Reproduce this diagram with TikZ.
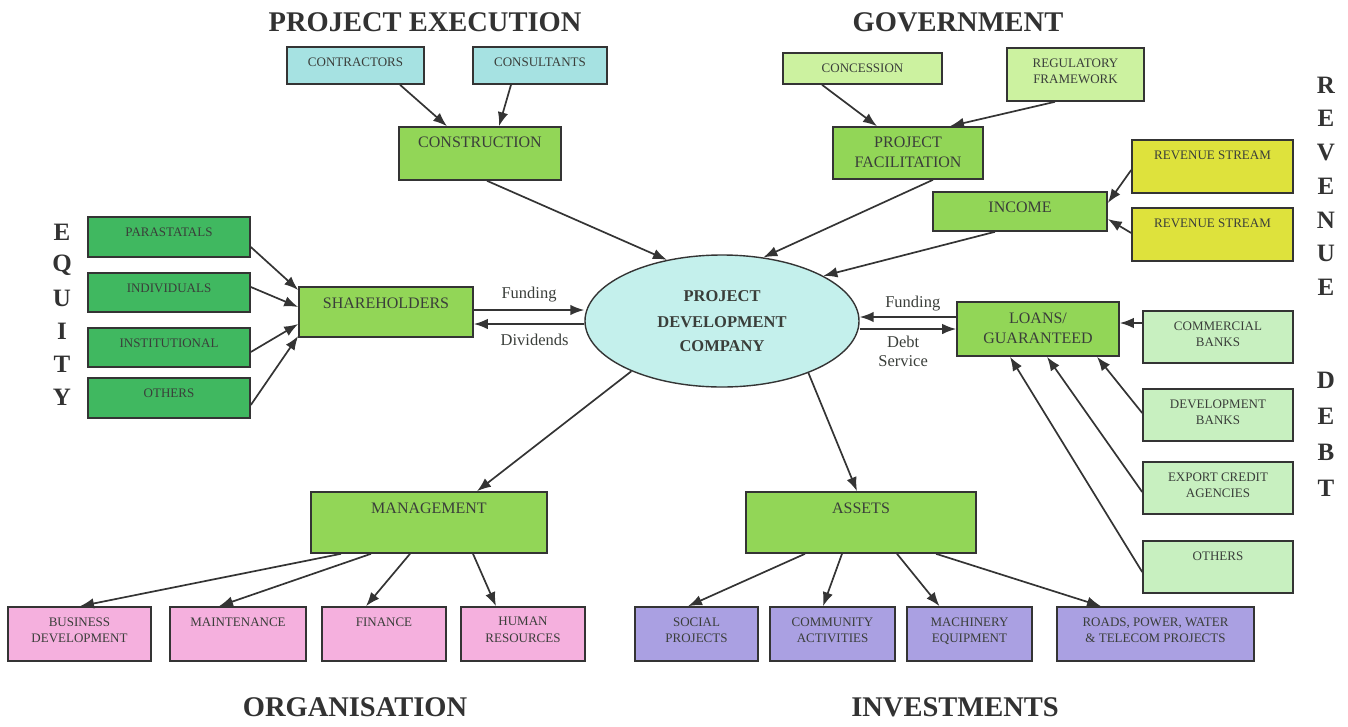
\documentclass[tikz,border=0pt]{standalone}
\usepackage{fontspec}
\setmainfont{Liberation Serif}
\usetikzlibrary{shapes}
\usetikzlibrary{arrows.meta}
\definecolor{bline}{RGB}{52,52,52}
\definecolor{btext}{RGB}{58,62,58}
\definecolor{htext}{RGB}{50,50,50}
\definecolor{bcyan}{RGB}{166,226,226}
\definecolor{bgreen}{RGB}{146,214,87}
\definecolor{blgreen}{RGB}{204,242,160}
\definecolor{byellow}{RGB}{222,226,60}
\definecolor{bdgreen}{RGB}{64,184,96}
\definecolor{bpgreen}{RGB}{200,240,192}
\definecolor{bpink}{RGB}{245,176,222}
\definecolor{blav}{RGB}{170,160,226}
\definecolor{bellip}{RGB}{196,240,236}
\tikzset{
    mybox/.style = {rectangle, line width=1.6pt, draw=bline, inner sep=0pt},
    myboxc/.style = {mybox, fill=bcyan},
    myboxg/.style = {mybox, fill=bgreen},
    myboxl/.style = {mybox, fill=blgreen},
    myboxy/.style = {mybox, fill=byellow},
    myboxd/.style = {mybox, fill=bdgreen},
    myboxp/.style = {mybox, fill=bpgreen},
    myboxk/.style = {mybox, fill=bpink},
    myboxv/.style = {mybox, fill=blav},
    mytext/.style = {anchor=north, inner sep=0pt, yshift=-11pt, align=center, text=btext, font=\fontsize{13}{16.5}\selectfont},
    mytextb/.style = {mytext, font=\fontsize{16}{20}\selectfont},
    edgen/.style = {-{Latex[length=14pt,width=10.5pt]}, line width=1.7pt, draw=bline},
    flow/.style = {text=btext, align=center, font=\fontsize{16.5}{19}\selectfont},
    heading/.style = {text=htext, font=\bfseries\fontsize{28.5}{30}\selectfont},
    sideletter/.style = {text=htext, font=\bfseries\fontsize{25}{25}\selectfont}
}

\begin{document}
\begin{tikzpicture}[x=1pt, y=-1pt]
\useasboundingbox (0,0) rectangle (1348,726);
% headings
\node[heading] at (425,22) (hexec) {PROJECT EXECUTION};
\node[heading] at (958,22) (hgov) {GOVERNMENT};
\node[heading] at (355,707) (horg) {ORGANISATION};
\node[heading] at (955,707) (hinv) {INVESTMENTS};
% words written downwards
\foreach \ltr/\y [count=\i] in {E/232,Q/265,U/298,I/331,T/364,Y/397}
    \node[sideletter] at (62,\y) (eq\i) {\ltr};
\foreach \ltr/\y [count=\i] in {R/85,E/118,V/152,E/186,N/220,U/253,E/287}
    \node[sideletter] at (1326,\y) (rv\i) {\ltr};
\foreach \ltr/\y [count=\i] in {D/380,E/416,B/452,T/488}
    \node[sideletter] at (1326,\y) (db\i) {\ltr};
%
% project execution
\node[myboxc, minimum width=137pt, minimum height=37pt, label={[mytext]north:CONTRACTORS}] at (355.5,65.5) (contr) {};
\node[myboxc, minimum width=134pt, minimum height=37pt, label={[mytext]north:CONSULTANTS}] at (540,65.5) (consul) {};
\node[myboxg, minimum width=162pt, minimum height=53pt, label={[mytextb]north:CONSTRUCTION}] at (480,153.5) (constr) {};
% government
\node[myboxl, minimum width=159pt, minimum height=31pt, label={[mytext]north:CONCESSION}] at (862.5,68.5) (conces) {};
\node[myboxl, minimum width=137pt, minimum height=53pt, label={[mytext]north:REGULATORY\\FRAMEWORK}] at (1075.5,74.5) (regul) {};
\node[myboxg, minimum width=150pt, minimum height=52pt, label={[mytextb]north:PROJECT\\FACILITATION}] at (908,153) (facil) {};
% revenue
\node[myboxy, minimum width=161pt, minimum height=53pt, label={[mytext]north:REVENUE STREAM}] at (1212.5,166.5) (rev1) {};
\node[myboxy, minimum width=161pt, minimum height=53pt, label={[mytext]north:REVENUE STREAM}] at (1212.5,234.5) (rev2) {};
\node[myboxg, minimum width=174pt, minimum height=39pt, label={[mytextb]north:INCOME}] at (1020,211.5) (income) {};
% equity
\node[myboxd, minimum width=162pt, minimum height=40pt, label={[mytext]north:PARASTATALS}] at (169,237) (para) {};
\node[myboxd, minimum width=162pt, minimum height=39pt, label={[mytext]north:INDIVIDUALS}] at (169,292.5) (indiv) {};
\node[myboxd, minimum width=162pt, minimum height=39pt, label={[mytext]north:INSTITUTIONAL}] at (169,347.5) (inst) {};
\node[myboxd, minimum width=162pt, minimum height=40pt, label={[mytext]north:OTHERS}] at (169,398) (eqoth) {};
\node[myboxg, minimum width=174pt, minimum height=50pt, label={[mytextb]north:SHAREHOLDERS}] at (386,312) (share) {};
% the company
\node[ellipse, draw=bline, line width=1.4pt, fill=bellip, minimum width=274pt, minimum height=132pt, inner sep=0pt, align=center, text=btext, font=\bfseries\fontsize{16.5}{23.5}\selectfont] at (722,321) (pdc) {\raisebox{3pt}{PROJECT}\\DEVELOPMENT\\COMPANY};
% debt
\node[myboxg, minimum width=162pt, minimum height=54pt, label={[mytextb]north:LOANS/\\GUARANTEED}] at (1038,329) (loans) {};
\node[myboxp, minimum width=150pt, minimum height=52pt, label={[mytext]north:COMMERCIAL\\BANKS}] at (1218,337) (comm) {};
\node[myboxp, minimum width=150pt, minimum height=52pt, label={[mytext]north:DEVELOPMENT\\BANKS}] at (1218,415) (devb) {};
\node[myboxp, minimum width=150pt, minimum height=52pt, label={[mytext]north:EXPORT CREDIT\\AGENCIES}] at (1218,488) (expc) {};
\node[myboxp, minimum width=150pt, minimum height=52pt, label={[mytext]north:OTHERS}] at (1218,567) (dboth) {};
% organisation
\node[myboxg, minimum width=236pt, minimum height=61pt, label={[mytextb]north:MANAGEMENT}] at (429,522.5) (mgmt) {};
\node[myboxk, minimum width=143pt, minimum height=54pt, label={[mytext]north:BUSINESS\\DEVELOPMENT}] at (79.5,634) (busdev) {};
\node[myboxk, minimum width=136pt, minimum height=54pt, label={[mytext]north:MAINTENANCE}] at (238,634) (maint) {};
\node[myboxk, minimum width=124pt, minimum height=54pt, label={[mytext]north:FINANCE}] at (384,634) (fin) {};
\node[myboxk, minimum width=124pt, minimum height=54pt, label={[mytext]north:HUMAN\\RESOURCES}] at (523,634) (hr) {};
% investments
\node[myboxg, minimum width=230pt, minimum height=61pt, label={[mytextb]north:ASSETS}] at (861,522.5) (assets) {};
\node[myboxv, minimum width=123pt, minimum height=54pt, label={[mytext]north:SOCIAL\\PROJECTS}] at (696.5,634) (social) {};
\node[myboxv, minimum width=125pt, minimum height=54pt, label={[mytext]north:COMMUNITY\\ACTIVITIES}] at (832.5,634) (commu) {};
\node[myboxv, minimum width=125pt, minimum height=54pt, label={[mytext]north:MACHINERY\\EQUIPMENT}] at (969.5,634) (mach) {};
\node[myboxv, minimum width=197pt, minimum height=54pt, label={[mytext]north:{ROADS, POWER, WATER\\\& TELECOM PROJECTS}}] at (1155.5,634) (roads) {};
%
\draw[edgen] ([xshift=44.5]contr.south) -- ([xshift=-33]constr.north);
\draw[edgen] ([xshift=-29]consul.south) -- ([xshift=19]constr.north);
\draw[edgen] ([xshift=7]constr.south) -- (pdc.132);
\draw[edgen] ([xshift=-40.5]conces.south) -- ([xshift=-31]facil.north);
\draw[edgen] ([xshift=-20.5]regul.south) -- ([xshift=42]facil.north);
\draw[edgen] ([xshift=25]facil.south) -- (pdc.57);
\draw[edgen] ([yshift=-3.5]rev1.west) -- ([yshift=8.5]income.east);
\draw[edgen] ([yshift=1.5]rev2.west) -- ([yshift=-7.5]income.east);
\draw[edgen] ([xshift=-25]income.south) -- (pdc.24);
%
\draw[edgen] ([yshift=-10]para.east) -- ([yshift=22]share.west);
\draw[edgen] ([yshift=5.5]indiv.east) -- ([yshift=5]share.west);
\draw[edgen] ([yshift=-4.5]inst.east) -- ([yshift=-12]share.west);
\draw[edgen] ([yshift=-7]eqoth.east) -- ([yshift=-24]share.west);
\draw[edgen] ([yshift=2]share.east) -- ([yshift=11]pdc.west) node[flow, pos=0.5, above=4pt] (lfundl) {Funding};
\draw[edgen] ([yshift=-3]pdc.west) -- ([yshift=-12]share.east) node[flow, pos=0.45, below=6pt] (ldivd) {Dividends};
\draw[edgen] ([yshift=12]loans.west) -- ([yshift=4]pdc.east) node[flow, pos=0.45, above=2pt] (lfundr) {Funding};
\draw[edgen] ([yshift=-8]pdc.east) -- ([yshift=0]loans.west) node[flow, pos=0.45, below=3pt] (ldebt) {Debt\\Service};
%
\draw[edgen] ([yshift=14]comm.west) -- ([yshift=6]loans.east);
\draw[edgen] ([yshift=2]devb.west) -- ([xshift=59]loans.south);
\draw[edgen] ([yshift=-4]expc.west) -- ([xshift=9]loans.south);
\draw[edgen] ([yshift=-5]dboth.west) -- ([xshift=-28]loans.south);
%
\draw[edgen] (pdc.209) -- ([xshift=48]mgmt.north);
\draw[edgen] (pdc.329) -- ([xshift=-4]assets.north);
\draw[edgen] ([xshift=-88]mgmt.south) -- ([xshift=0.5]busdev.north);
\draw[edgen] ([xshift=-58]mgmt.south) -- ([xshift=-19]maint.north);
\draw[edgen] ([xshift=-19]mgmt.south) -- ([xshift=-18]fin.north);
\draw[edgen] ([xshift=44]mgmt.south) -- ([xshift=-27]hr.north);
\draw[edgen] ([xshift=-56]assets.south) -- ([xshift=-8.5]social.north);
\draw[edgen] ([xshift=-19]assets.south) -- ([xshift=-9.5]commu.north);
\draw[edgen] ([xshift=36]assets.south) -- ([xshift=-30]mach.north);
\draw[edgen] ([xshift=75]assets.south) -- ([xshift=-54.5]roads.north);
\end{tikzpicture}
\end{document}
